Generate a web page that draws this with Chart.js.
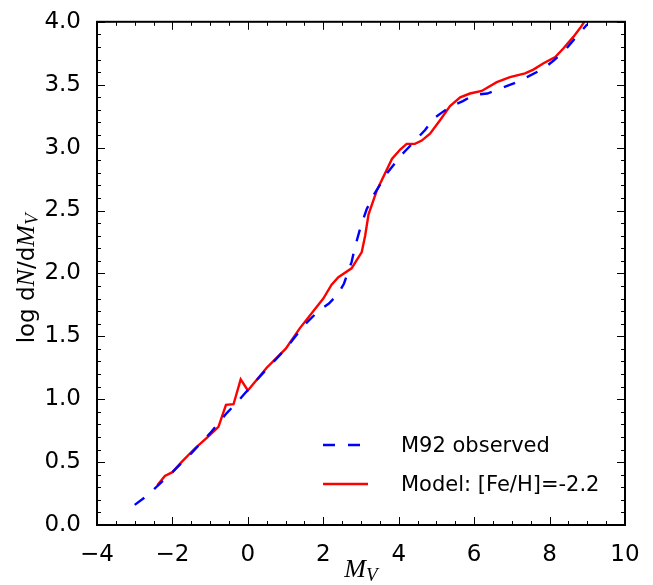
<!DOCTYPE html>
<html>
<head>
<meta charset="utf-8">
<script src="https://cdn.jsdelivr.net/npm/chart.js@4.4.0/dist/chart.umd.min.js"></script>
<style>
  body { margin: 0; background: #fff; }
  #wrap { width: 653px; height: 585px; }
</style>
</head>
<body>
<div id="wrap"><canvas id="lfChart"></canvas></div>
<script>
// M92 observed luminosity function (blue dashed)
const obsMv = [-3.0, -2.6, -2.4, -2.0, -1.5, -1.0, -0.56, -0.3, -0.1, 0.5, 1.0, 1.5, 1.9, 2.15, 2.4, 2.55,
  2.75, 2.85, 3.0, 3.15, 3.35, 3.7, 4.1, 4.45, 4.7, 4.92, 5.15, 5.4, 5.7, 6.0, 6.35, 6.7, 7.05, 7.4,
  7.85, 8.1, 8.4, 8.65, 9.0];
const obsLogN = [0.16, 0.25, 0.31, 0.42, 0.57, 0.73, 0.89, 0.97, 1.04, 1.24, 1.40, 1.59, 1.71, 1.76, 1.84, 1.92,
  2.09, 2.22, 2.38, 2.51, 2.63, 2.80, 2.95, 3.06, 3.14, 3.23, 3.28, 3.33, 3.37, 3.42, 3.43, 3.47, 3.51, 3.56,
  3.63, 3.69, 3.77, 3.86, 3.98];

// model [Fe/H]=-2.2 (red solid)
const modelMv = [-2.4, -2.2, -2.0, -1.76, -1.4, -1.06, -0.78, -0.58, -0.38, -0.19, 0.0, 0.5, 1.0, 1.38, 2.0,
  2.22, 2.4, 2.75, 3.02, 3.11, 3.2, 3.42, 3.82, 4.04, 4.21, 4.43, 4.61, 4.83, 5.1, 5.36, 5.63, 5.89,
  6.2, 6.6, 6.95, 7.35, 7.57, 7.84, 8.15, 8.37, 8.63, 8.81, 8.92];
const modelLogN = [0.315, 0.39, 0.42, 0.50, 0.61, 0.70, 0.78, 0.955, 0.96, 1.157, 1.07, 1.25, 1.40, 1.565, 1.80,
  1.91, 1.97, 2.04, 2.17, 2.30, 2.47, 2.66, 2.91, 2.985, 3.03, 3.03, 3.056, 3.11, 3.22, 3.33, 3.40, 3.43,
  3.45, 3.52, 3.56, 3.59, 3.62, 3.67, 3.72, 3.79, 3.88, 3.95, 4.0];

const seriesLabels = ['M92 observed', 'Model: [Fe/H]=-2.2'];
const xRange = [-4, 10];
const yRange = [0, 4];

const SANS = '"DejaVu Sans", sans-serif';
const MATH = '"Liberation Serif", serif';

function toPoints(xs, ys) {
  return xs.map((x, i) => ({ x: x, y: ys[i] }));
}

function minus(v, digits) {
  const s = Math.abs(v).toFixed(digits);
  return v < 0 ? '\u2212' + s : s;
}

// draw a row of text pieces with different fonts, centred at (0,0) of current transform
function drawPieces(ctx, pieces) {
  let total = 0;
  pieces.forEach(p => { ctx.font = p.font; p.w = ctx.measureText(p.text).width; total += p.w; });
  let cx = -total / 2;
  pieces.forEach(p => {
    ctx.font = p.font;
    ctx.fillText(p.text, cx, p.dy || 0);
    cx += p.w;
  });
}

// matplotlib-like frame: inward major/minor ticks on all four sides, axis titles, legend
const framePlugin = {
  id: 'framePlugin',
  afterDatasetsDraw(chart) {
    const { ctx, chartArea: a, scales: { x, y } } = chart;
    ctx.save();
    ctx.strokeStyle = '#000';
    ctx.lineWidth = 1;
    const seg = (x1, y1, x2, y2) => { ctx.beginPath(); ctx.moveTo(x1, y1); ctx.lineTo(x2, y2); ctx.stroke(); };

    for (let i = 0; i <= 28; i++) {
      const v = xRange[0] + i * 0.5;
      const px = Math.round(x.getPixelForValue(v)) + 0.5;
      const len = i % 4 === 0 ? 8 : 4;
      seg(px, a.bottom, px, a.bottom - len);
      seg(px, a.top, px, a.top + len);
    }
    for (let i = 0; i <= 40; i++) {
      const v = yRange[0] + i * 0.1;
      const py = Math.round(y.getPixelForValue(v)) + 0.5;
      const len = i % 5 === 0 ? 8 : 4;
      seg(a.left, py, a.left + len, py);
      seg(a.right, py, a.right - len, py);
    }
    ctx.lineWidth = 2;
    ctx.strokeRect(a.left, a.top, a.right - a.left, a.bottom - a.top);

    // axis titles
    ctx.fillStyle = '#000';
    ctx.textBaseline = 'alphabetic';
    ctx.textAlign = 'left';
    ctx.save();
    ctx.translate((a.left + a.right) / 2, 577);
    drawPieces(ctx, [
      { text: 'M', font: 'italic 26px ' + MATH },
      { text: 'V', font: 'italic 19px ' + MATH, dy: 4 }
    ]);
    ctx.restore();

    ctx.save();
    ctx.translate(34, (a.top + a.bottom) / 2 + 5);
    ctx.rotate(-Math.PI / 2);
    drawPieces(ctx, [
      { text: 'log d', font: '23px ' + SANS },
      { text: 'N', font: 'italic 26px ' + MATH },
      { text: '/d', font: '23px ' + SANS },
      { text: 'M', font: 'italic 26px ' + MATH },
      { text: 'V', font: 'italic 19px ' + MATH, dy: 4 }
    ]);
    ctx.restore();

    // legend (no frame), placed like matplotlib's lower right
    const rows = [
      { ds: chart.data.datasets[0], y: 445 },
      { ds: chart.data.datasets[1], y: 484 }
    ];
    ctx.font = '21px ' + SANS;
    ctx.textBaseline = 'middle';
    rows.forEach(r => {
      ctx.strokeStyle = r.ds.borderColor;
      ctx.lineWidth = r.ds.borderWidth;
      ctx.setLineDash(r.ds.borderDash || []);
      seg(323, r.y, 368, r.y);
      ctx.setLineDash([]);
      ctx.fillText(r.ds.label, 401, r.y + 2);
    });
    ctx.restore();
  }
};

const ctx = document.getElementById('lfChart').getContext('2d');
new Chart(ctx, {
  type: 'scatter',
  data: {
    datasets: [
      {
        label: seriesLabels[0],
        data: toPoints(obsMv, obsLogN),
        showLine: true,
        borderColor: '#0000ff',
        borderWidth: 2.4,
        borderDash: [12, 13],
        pointRadius: 0,
        tension: 0
      },
      {
        label: seriesLabels[1],
        data: toPoints(modelMv, modelLogN),
        showLine: true,
        borderColor: '#ff0000',
        borderWidth: 2.4,
        pointRadius: 0,
        tension: 0
      }
    ]
  },
  options: {
    responsive: true,
    maintainAspectRatio: false,
    animation: false,
    layout: { padding: { left: 0, top: 18, right: 28, bottom: 0 } },
    plugins: {
      legend: { display: false },
      tooltip: { enabled: false }
    },
    scales: {
      x: {
        type: 'linear',
        min: xRange[0],
        max: xRange[1],
        grid: { display: false },
        border: { display: false },
        afterFit: s => { s.height = 60; },
        ticks: {
          stepSize: 2,
          padding: 8,
          color: '#000',
          font: { family: SANS, size: 23 },
          callback: v => minus(v, 0)
        }
      },
      y: {
        type: 'linear',
        min: yRange[0],
        max: yRange[1],
        grid: { display: false },
        border: { display: false },
        afterFit: s => { s.width = 97; },
        ticks: {
          stepSize: 0.5,
          padding: 8,
          color: '#000',
          font: { family: SANS, size: 23 },
          callback: v => minus(v, 1)
        }
      }
    }
  },
  plugins: [framePlugin]
});
</script>
</body>
</html>
